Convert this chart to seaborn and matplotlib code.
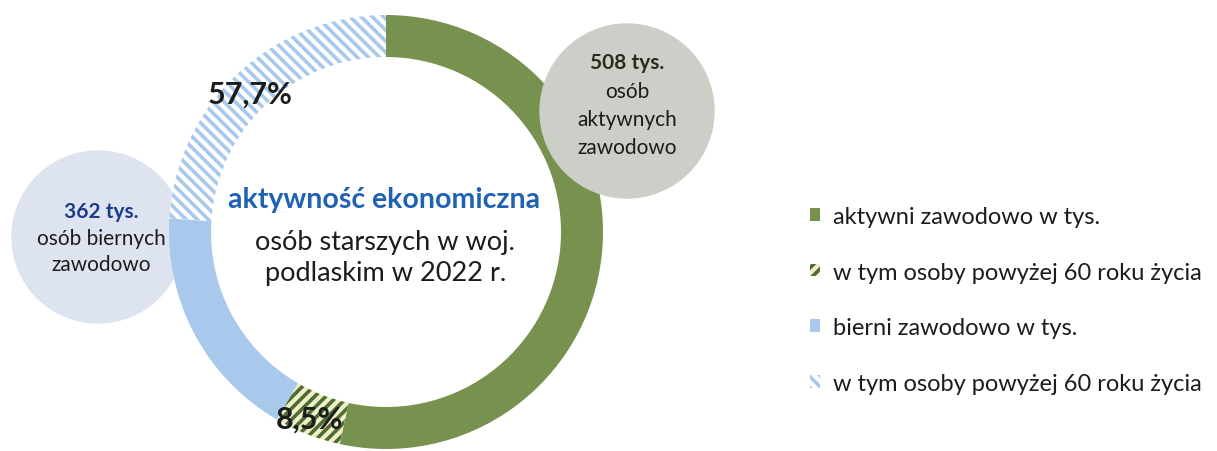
import matplotlib.pyplot as plt
import seaborn as sns
from matplotlib.patches import Circle

# data (tys. osob, woj. podlaskie 2022)
groups = ['aktywni zawodowo w tys.', 'bierni zawodowo w tys.']
totals = [508, 362]
pct_60plus = [8.5, 57.7]
legend_labels = ['aktywni zawodowo w tys.',
                 'w tym osoby powyżej 60 roku życia',
                 'bierni zawodowo w tys.',
                 'w tym osoby powyżej 60 roku życia']

# split each group into "below 60" and "60+" parts
act_60 = totals[0] * pct_60plus[0] / 100
pas_60 = totals[1] * pct_60plus[1] / 100
sizes = [totals[0] - act_60, act_60, totals[1] - pas_60, pas_60]

sns.set_theme(style='white')
plt.rcParams['font.family'] = ['Lato', 'DejaVu Sans']
plt.rcParams['hatch.linewidth'] = 2.6

W, H = 1217, 452
fig = plt.figure(figsize=(W / 100, H / 100), dpi=100)
ax = fig.add_axes([0, 0, 1, 1])


def Y(y):
    return H - y


green = '#77914f'
blue = '#a8c8ec'
dark = '#1c1c1c'

# left bubble sits under the ring
ax.add_patch(Circle((98, Y(238)), 86, color='#dde4ef', zorder=1))

cx, cy, R = 386, Y(233), 217
wedges, _ = ax.pie(sizes, startangle=90, counterclock=False, center=(cx, cy),
                   radius=R, wedgeprops=dict(width=42, linewidth=0),
                   frame=True)
ax.set_xlim(0, W)
ax.set_ylim(0, H)
ax.set_aspect('equal')
ax.axis('off')

styles = [
    dict(facecolor=green, edgecolor=green, hatch=None),
    dict(facecolor='#eef0c6', edgecolor='#4f6c34', hatch='///'),
    dict(facecolor=blue, edgecolor=blue, hatch=None),
    dict(facecolor='white', edgecolor=blue, hatch='\\\\\\'),
]
for w, st in zip(wedges, styles):
    w.set_facecolor(st['facecolor'])
    w.set_edgecolor(st['edgecolor'])
    w.set_linewidth(0)
    w.set_zorder(2)
    if st['hatch']:
        w.set_hatch(st['hatch'])

# right bubble above the ring
ax.add_patch(Circle((627, Y(112)), 87, color='#cbcfc7', zorder=3))

# percentage labels
ax.text(250, Y(95), f'{pct_60plus[1]:.1f}%'.replace('.', ','), fontsize=22,
        fontweight='bold', color=dark, ha='center', va='center', zorder=5)
ax.text(309, Y(420), f'{pct_60plus[0]:.1f}%'.replace('.', ','), fontsize=22,
        fontweight='bold', color=dark, ha='center', va='center', zorder=5)

# centre title
ax.text(384, Y(200), 'aktywność ekonomiczna', fontsize=20.5, fontweight='bold',
        color='#1f62b4', ha='center', va='center', zorder=5)
ax.text(385, Y(243), 'osób starszych w woj.', fontsize=19.5, color=dark,
        ha='center', va='center', zorder=5)
ax.text(386, Y(273), 'podlaskim w 2022 r.', fontsize=19.5, color=dark,
        ha='center', va='center', zorder=5)

# bubble texts
ax.text(627, Y(63), f'{totals[0]} tys.', fontsize=15, fontweight='bold',
        color='#2a2a1e', ha='center', va='center', zorder=5)
for i, line in enumerate(['osób', 'aktywnych', 'zawodowo']):
    ax.text(627, Y(92 + 28 * i), line, fontsize=15, color=dark,
            ha='center', va='center', zorder=5)

ax.text(101, Y(212), f'{totals[1]} tys.', fontsize=15, fontweight='bold',
        color='#1d3a8a', ha='center', va='center', zorder=5)
for i, line in enumerate(['osób biernych', 'zawodowo']):
    ax.text(101, Y(239 + 26 * i), line, fontsize=15, color=dark,
            ha='center', va='center', zorder=5)

# legend
leg = ax.legend(wedges, legend_labels, loc='upper left',
                bbox_to_anchor=(798 / W, 1 - 195 / H), frameon=False,
                fontsize=17, handlelength=0.45, handleheight=0.45,
                handletextpad=0.55, labelspacing=1.47, borderpad=0)
for t in leg.get_texts():
    t.set_color(dark)

fig.savefig('out.png', dpi=100)
